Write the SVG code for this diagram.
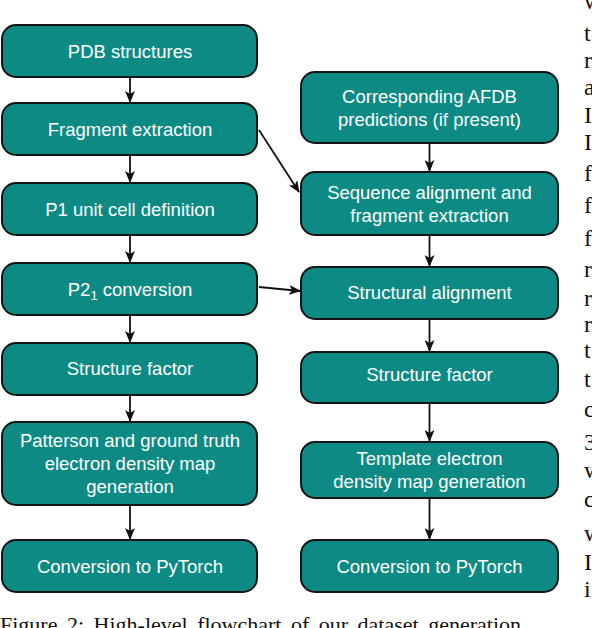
<svg xmlns="http://www.w3.org/2000/svg" width="592" height="628" viewBox="0 0 592 628">
<defs>
<style>
.box{fill:#0e8a84;stroke:#141414;stroke-width:2}
.lbl{font-family:"Liberation Sans",Arial,Helvetica,sans-serif;font-size:18.5px;fill:#ffffff;text-anchor:middle}
.edge{stroke:#111;stroke-width:1.8;fill:none}
.body{font-family:"Liberation Serif","Times New Roman",serif;font-size:24px;fill:#111}
.cap{font-family:"Liberation Serif","Times New Roman",serif;font-size:22px;fill:#111;word-spacing:4px}
</style>
<marker id="ah" viewBox="0 0 12 10" refX="11" refY="5" markerWidth="12" markerHeight="10" markerUnits="userSpaceOnUse" orient="auto">
<path d="M0,0 L12,5 L0,10 L3,5 z" fill="#111"/>
</marker>
</defs>
<rect width="592" height="628" fill="#ffffff"/>

<g id="connectors">
<line class="edge" x1="130" y1="77" x2="130" y2="102" marker-end="url(#ah)"/>
<line class="edge" x1="130" y1="155" x2="130" y2="182" marker-end="url(#ah)"/>
<line class="edge" x1="130" y1="235" x2="130" y2="262" marker-end="url(#ah)"/>
<line class="edge" x1="130" y1="315" x2="130" y2="342" marker-end="url(#ah)"/>
<line class="edge" x1="130" y1="395" x2="130" y2="421" marker-end="url(#ah)"/>
<line class="edge" x1="130" y1="505" x2="130" y2="539" marker-end="url(#ah)"/>
<line class="edge" x1="429.5" y1="143" x2="429.5" y2="171" marker-end="url(#ah)"/>
<line class="edge" x1="429.5" y1="235" x2="429.5" y2="266" marker-end="url(#ah)"/>
<line class="edge" x1="429.5" y1="319" x2="429.5" y2="351" marker-end="url(#ah)"/>
<line class="edge" x1="429.5" y1="403" x2="429.5" y2="441" marker-end="url(#ah)"/>
<line class="edge" x1="429.5" y1="498" x2="429.5" y2="539" marker-end="url(#ah)"/>
<line class="edge" x1="259" y1="130" x2="299" y2="192" marker-end="url(#ah)"/>
<line class="edge" x1="259" y1="287" x2="300" y2="291" marker-end="url(#ah)"/>
</g>

<g id="pdb-structures">
<rect class="box" x="2" y="25" width="255" height="52" rx="14"/>
<text class="lbl" x="130" y="58">PDB structures</text>
</g>
<g id="fragment-extraction">
<rect class="box" x="2" y="103" width="255" height="52" rx="14"/>
<text class="lbl" x="130" y="136">Fragment extraction</text>
</g>
<g id="p1-unit-cell">
<rect class="box" x="2" y="183" width="255" height="52" rx="14"/>
<text class="lbl" x="130" y="216">P1 unit cell definition</text>
</g>
<g id="p21-conversion">
<rect class="box" x="2" y="263" width="255" height="52" rx="14"/>
<text class="lbl" x="130" y="296">P2<tspan font-size="13" dy="4">1</tspan><tspan dy="-4"> conversion</tspan></text>
</g>
<g id="structure-factor-left">
<rect class="box" x="2" y="343" width="255" height="52" rx="14"/>
<text class="lbl" x="130" y="375">Structure factor</text>
</g>
<g id="patterson">
<rect class="box" x="2" y="422" width="255" height="83" rx="14"/>
<text class="lbl" x="130" y="447">Patterson and ground truth</text>
<text class="lbl" x="130" y="470">electron density map</text>
<text class="lbl" x="130" y="493">generation</text>
</g>
<g id="pytorch-left">
<rect class="box" x="2" y="540" width="255" height="52" rx="14"/>
<text class="lbl" x="130" y="573">Conversion to PyTorch</text>
</g>

<g id="afdb-predictions">
<rect class="box" x="301" y="72" width="257" height="71" rx="14"/>
<text class="lbl" x="429.5" y="103">Corresponding AFDB</text>
<text class="lbl" x="429.5" y="126">predictions (if present)</text>
</g>
<g id="sequence-alignment">
<rect class="box" x="301" y="172" width="257" height="63" rx="14"/>
<text class="lbl" x="429.5" y="199">Sequence alignment and</text>
<text class="lbl" x="429.5" y="222">fragment extraction</text>
</g>
<g id="structural-alignment">
<rect class="box" x="301" y="267" width="257" height="52" rx="14"/>
<text class="lbl" x="429.5" y="299">Structural alignment</text>
</g>
<g id="structure-factor-right">
<rect class="box" x="301" y="352" width="257" height="51" rx="14"/>
<text class="lbl" x="429.5" y="381">Structure factor</text>
</g>
<g id="template-map">
<rect class="box" x="301" y="442" width="257" height="56" rx="14"/>
<text class="lbl" x="429.5" y="465">Template electron</text>
<text class="lbl" x="429.5" y="488">density map generation</text>
</g>
<g id="pytorch-right">
<rect class="box" x="301" y="540" width="257" height="52" rx="14"/>
<text class="lbl" x="429.5" y="573">Conversion to PyTorch</text>
</g>

<g id="page-text">
<text class="body" x="584" y="9">w</text>
<text class="body" x="584" y="41">t</text>
<text class="body" x="584" y="68">r</text>
<text class="body" x="584" y="95">a</text>
<text class="body" x="584" y="123">I</text>
<text class="body" x="584" y="150">I</text>
<text class="body" x="584" y="181">f</text>
<text class="body" x="584" y="213">f</text>
<text class="body" x="584" y="246">f</text>
<text class="body" x="584" y="277">r</text>
<text class="body" x="584" y="306">r</text>
<text class="body" x="584" y="332">r</text>
<text class="body" x="584" y="358">t</text>
<text class="body" x="584" y="387">t</text>
<text class="body" x="584" y="417">c</text>
<text class="body" x="584" y="450">3</text>
<text class="body" x="584" y="478">w</text>
<text class="body" x="584" y="507">c</text>
<text class="body" x="584" y="541">w</text>
<text class="body" x="584" y="570">I</text>
<text class="body" x="584" y="597">i</text>
<text class="cap" x="0" y="632">Figure 2: High-level flowchart of our dataset generation</text>
</g>
</svg>
